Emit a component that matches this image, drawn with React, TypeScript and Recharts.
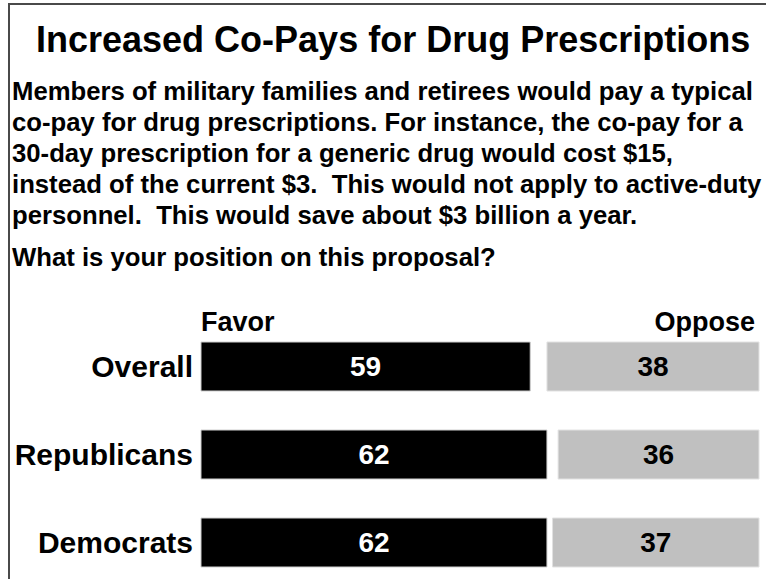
import React from 'react';
import { BarChart, Bar, XAxis, YAxis, LabelList } from 'recharts';

const categories = ['Overall', 'Republicans', 'Democrats'];
const favorValues = [59, 62, 62];
const opposeValues = [38, 36, 37];
const seriesLabels = ['Favor', 'Oppose'];
const titleText = 'Increased Co-Pays for Drug Prescriptions';
const descriptionLines = [
  'Members of military families and retirees would pay a typical',
  'co-pay for drug prescriptions. For instance, the co-pay for a',
  '30-day prescription for a generic drug would cost $15,',
  'instead of the current $3.  This would not apply to active-duty',
  'personnel.  This would save about $3 billion a year.',
];
const questionText = 'What is your position on this proposal?';

const data = categories.map((name, i) => ({
  name,
  favor: favorValues[i],
  gap: Math.max(0, 100 - favorValues[i] - opposeValues[i]),
  oppose: opposeValues[i],
}));

const FONT = '"Liberation Sans", Arial, Helvetica, sans-serif';

const CategoryTick = (props: any) => {
  const { x, y, payload } = props;
  return (
    <text
      x={x}
      y={y}
      textAnchor="end"
      dominantBaseline="central"
      fontFamily={FONT}
      fontWeight="bold"
      fontSize={30}
      fill="#000"
    >
      {payload.value}
    </text>
  );
};

export default function App() {
  return (
    <div
      style={{
        position: 'fixed',
        left: 0,
        top: 0,
        width: 766,
        height: 579,
        overflow: 'hidden',
        background: '#fff',
        fontFamily: FONT,
        color: '#000',
      }}
    >
      <div
        style={{
          position: 'absolute',
          left: 8,
          top: 3,
          width: 800,
          height: 700,
          borderLeft: '2px solid #4a4a4a',
          borderTop: '2px solid #4a4a4a',
          boxSizing: 'border-box',
        }}
      />
      <div
        style={{
          position: 'absolute',
          left: 36,
          top: 20,
          fontSize: 36,
          lineHeight: '40px',
          fontWeight: 'bold',
          whiteSpace: 'nowrap',
        }}
      >
        {titleText}
      </div>
      <div
        style={{
          position: 'absolute',
          left: 12,
          top: 76,
          fontSize: 25.7,
          lineHeight: '31px',
          fontWeight: 'bold',
          whiteSpace: 'pre',
        }}
      >
        {descriptionLines.map((l, i) => (
          <div key={i}>{l}</div>
        ))}
      </div>
      <div
        style={{
          position: 'absolute',
          left: 12,
          top: 241,
          fontSize: 25.7,
          lineHeight: '33px',
          fontWeight: 'bold',
          whiteSpace: 'pre',
        }}
      >
        {questionText}
      </div>
      <div
        style={{
          position: 'absolute',
          left: 201,
          top: 307,
          fontSize: 27,
          lineHeight: '30px',
          fontWeight: 'bold',
          whiteSpace: 'nowrap',
        }}
      >
        {seriesLabels[0]}
      </div>
      <div
        style={{
          position: 'absolute',
          left: 555,
          width: 200,
          top: 307,
          fontSize: 27,
          lineHeight: '30px',
          fontWeight: 'bold',
          textAlign: 'right',
          whiteSpace: 'nowrap',
        }}
      >
        {seriesLabels[1]}
      </div>
      <div style={{ position: 'absolute', left: 0, top: 300 }}>
        <BarChart
          width={766}
          height={300}
          data={data}
          layout="vertical"
          margin={{ top: 22, right: 7, bottom: 14, left: 0 }}
          barSize={49}
        >
          <XAxis type="number" domain={[0, 100]} hide />
          <YAxis
            type="category"
            dataKey="name"
            width={201}
            axisLine={false}
            tickLine={false}
            tickSize={0}
            tickMargin={8}
            tick={<CategoryTick />}
            interval={0}
          />
          <Bar dataKey="favor" stackId="a" fill="#000" stroke="#cfcfcf" strokeWidth={1} isAnimationActive={false}>
            <LabelList
              dataKey="favor"
              position="center"
              fill="#fff"
              fontFamily={FONT}
              fontWeight="bold"
              fontSize={28}
            />
          </Bar>
          <Bar dataKey="gap" stackId="a" fill="transparent" isAnimationActive={false} />
          <Bar dataKey="oppose" stackId="a" fill="#c0c0c0" stroke="#e2e2e2" strokeWidth={1} isAnimationActive={false}>
            <LabelList
              dataKey="oppose"
              position="center"
              fill="#000"
              fontFamily={FONT}
              fontWeight="bold"
              fontSize={28}
            />
          </Bar>
        </BarChart>
      </div>
    </div>
  );
}
